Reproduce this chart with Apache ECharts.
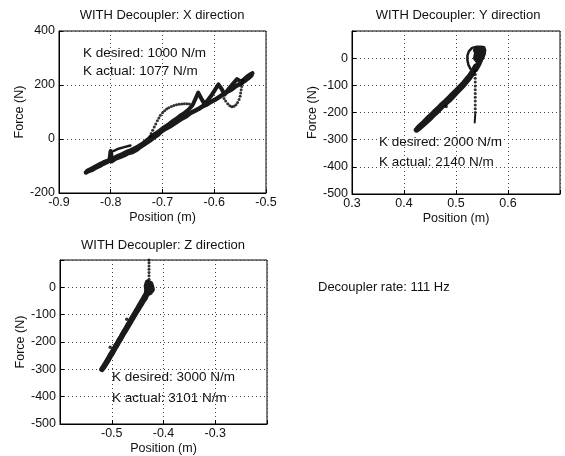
<!DOCTYPE html>
<html>
<head>
<meta charset="utf-8">
<script src="https://cdn.jsdelivr.net/npm/echarts@6/dist/echarts.min.js"></script>
<style>
html,body{margin:0;padding:0;background:#fff;}
#chart{width:565px;height:456px;}
</style>
</head>
<body>
<div id="chart"></div>
<script>
// ---------- Titles / texts ----------
const titles = ['WITH Decoupler: X direction', 'WITH Decoupler: Y direction', 'WITH Decoupler: Z direction'];
const kTexts = [
  ['K desired: 1000 N/m', 'K actual: 1077 N/m'],
  ['K desired: 2000 N/m', 'K actual: 2140 N/m'],
  ['K desired: 3000 N/m', 'K actual: 3101 N/m']
];
const rateText = 'Decoupler rate: 111 Hz';

// ---------- Tick labels ----------
const xTicks1 = [-0.9, -0.8, -0.7, -0.6, -0.5];
const yTicks1 = [-200, 0, 200, 400];
const xTicks2 = [0.3, 0.4, 0.5, 0.6];
const yTicks2 = [-500, -400, -300, -200, -100, 0];
const xTicks3 = [-0.5, -0.4, -0.3];
const yTicks3 = [-500, -400, -300, -200, -100, 0];

// ---------- X direction data ----------
const xBandOut = [[-0.848,-124],[-0.842,-118],[-0.836,-114],[-0.829,-106],[-0.822,-100],[-0.815,-92],[-0.808,-86],[-0.802,-80],[-0.800,-45],[-0.798,-82],[-0.790,-72],[-0.782,-66],[-0.774,-60],[-0.766,-52],[-0.758,-48],[-0.750,-40],[-0.742,-28],[-0.734,-18],[-0.726,-8],[-0.718,4],[-0.710,14],[-0.702,28],[-0.694,38],[-0.686,46],[-0.678,56],[-0.670,66],[-0.662,76],[-0.654,84],[-0.646,96],[-0.638,104],[-0.630,112],[-0.622,122],[-0.614,128],[-0.606,138],[-0.598,146],[-0.590,156],[-0.582,166],[-0.574,176],[-0.566,184],[-0.558,196],[-0.550,204],[-0.542,214],[-0.534,226],[-0.528,236]];
const xBandBack = [[-0.526,244],[-0.530,240],[-0.536,232],[-0.542,222],[-0.548,212],[-0.556,222],[-0.564,204],[-0.572,186],[-0.580,165],[-0.586,186],[-0.592,202],[-0.598,184],[-0.606,160],[-0.614,140],[-0.619,130],[-0.625,150],[-0.631,172],[-0.636,150],[-0.642,125],[-0.650,108],[-0.658,96],[-0.666,86],[-0.674,74],[-0.682,64],[-0.690,52],[-0.698,42],[-0.706,30],[-0.714,20],[-0.722,8],[-0.730,-4],[-0.738,-16],[-0.746,-26],[-0.754,-34],[-0.762,-42],[-0.770,-48],[-0.778,-56],[-0.786,-62],[-0.794,-70],[-0.806,-80],[-0.814,-86],[-0.822,-94],[-0.830,-102],[-0.838,-110],[-0.846,-118]];
const xArm = [[-0.794,-44],[-0.785,-36],[-0.774,-30],[-0.762,-24]];
const xDotsCurve = [[-0.724,10],[-0.722,20],[-0.719,32],[-0.716,44],[-0.713,56],[-0.710,68],[-0.707,78],[-0.704,88],[-0.700,97],[-0.696,105],[-0.692,111],[-0.688,116],[-0.683,120],[-0.678,124],[-0.673,127],[-0.668,129],[-0.663,130],[-0.658,131],[-0.653,131],[-0.648,130]];
const xDotsLoop = [[-0.545,218],[-0.546,206],[-0.547,194],[-0.548,182],[-0.549,170],[-0.550,158],[-0.552,146],[-0.555,135],[-0.558,127],[-0.562,121],[-0.566,119],[-0.570,123],[-0.574,131],[-0.578,141],[-0.581,150]];

// ---------- Y direction data ----------
const yBandOut = [[0.424,-264],[0.430,-256],[0.437,-244],[0.444,-232],[0.451,-220],[0.458,-206],[0.465,-194],[0.472,-180],[0.479,-168],[0.486,-156],[0.493,-142],[0.500,-128],[0.507,-114],[0.514,-100],[0.520,-86],[0.526,-72],[0.531,-58],[0.535,-44],[0.538,-30]];
const yBandBack = [[0.538,-30],[0.532,-48],[0.527,-62],[0.521,-76],[0.515,-90],[0.508,-104],[0.501,-118],[0.494,-131],[0.487,-145],[0.480,-158],[0.473,-170],[0.466,-184],[0.459,-196],[0.452,-210],[0.445,-222],[0.438,-236],[0.431,-248],[0.426,-258]];
const yLoop = [[0.528,-40],[0.524,-25],[0.522,-8],[0.522,10],[0.525,26],[0.531,38],[0.540,42],[0.548,42],[0.554,40],[0.556,30],[0.555,15],[0.552,0],[0.548,-12],[0.544,-24],[0.540,-34]];
const yBlob = [[0.538,-40],[0.544,-20],[0.548,0],[0.550,18],[0.546,30],[0.540,20],[0.538,0],[0.542,-10],[0.549,8],[0.552,25],[0.545,34],[0.538,28]];
const yDotsVert = [[0.537,-46],[0.537,-60],[0.537,-74],[0.537,-88],[0.537,-102],[0.537,-116],[0.537,-130],[0.537,-144],[0.537,-158],[0.537,-172],[0.537,-186],[0.537,-200]];
const yTail = [[0.537,-207],[0.536,-237]];
const yOutliers = [[0.481,-178]];

// ---------- Z direction data ----------
const zBandOut = [[-0.519,-300],[-0.515,-290],[-0.511,-278],[-0.507,-266],[-0.503,-252],[-0.499,-240],[-0.495,-226],[-0.491,-214],[-0.487,-200],[-0.483,-188],[-0.479,-174],[-0.475,-162],[-0.471,-149],[-0.467,-136],[-0.463,-124],[-0.459,-111],[-0.455,-98],[-0.451,-86],[-0.447,-73],[-0.443,-61],[-0.439,-48],[-0.435,-36],[-0.432,-22]];
const zBandBack = [[-0.432,-22],[-0.437,-34],[-0.441,-48],[-0.445,-60],[-0.449,-74],[-0.453,-86],[-0.457,-100],[-0.461,-112],[-0.465,-126],[-0.469,-138],[-0.473,-152],[-0.477,-164],[-0.481,-178],[-0.485,-190],[-0.489,-204],[-0.493,-216],[-0.497,-230],[-0.501,-242],[-0.505,-256],[-0.509,-268],[-0.513,-282],[-0.517,-294]];
const zBlob = [[-0.436,-40],[-0.433,-25],[-0.432,-10],[-0.433,5],[-0.431,18],[-0.428,24],[-0.425,14],[-0.423,2],[-0.422,-8],[-0.426,-18],[-0.430,-22],[-0.428,-5],[-0.426,8]];
const zDotsVert = [[-0.428,30],[-0.428,42],[-0.428,54],[-0.428,66],[-0.428,78],[-0.428,90],[-0.428,100]];
const zOutliers = [[-0.471,-117],[-0.503,-219]];

// ---------- Chart ----------
const FONT = '"Liberation Sans", Arial, Helvetica, sans-serif';
const INK = '#111';

function fmt(ticks, dec) {
  return function (v) {
    for (const t of ticks) if (Math.abs(t - v) < 1e-6) return dec ? t.toFixed(dec) : String(t);
    return '';
  };
}
function xAxis(gi, min, max, interval, ticks) {
  return {
    type: 'value', gridIndex: gi, min: min, max: max, interval: interval,
    name: 'Position (m)', nameLocation: 'middle', nameGap: 18,
    nameTextStyle: { fontFamily: FONT, fontSize: 12.5, color: INK },
    axisLine: { show: true, onZero: false, lineStyle: { color: '#000', width: 1 } },
    axisTick: { show: true, inside: true, length: 4, lineStyle: { color: '#000' } },
    axisLabel: { show: true, margin: 3, fontFamily: FONT, fontSize: 12.5, color: INK, formatter: fmt(ticks, 1), showMinLabel: true, showMaxLabel: true },
    splitLine: { show: true, lineStyle: { color: '#444', width: 1, type: [1, 3] } }
  };
}
function yAxis(gi, min, max, interval, ticks, gap) {
  return {
    type: 'value', gridIndex: gi, min: min, max: max, interval: interval,
    name: 'Force (N)', nameLocation: 'middle', nameGap: gap, nameRotate: 90,
    nameTextStyle: { fontFamily: FONT, fontSize: 12.5, color: INK },
    axisLine: { show: true, onZero: false, lineStyle: { color: '#000', width: 1 } },
    axisTick: { show: true, inside: true, length: 4, lineStyle: { color: '#000' } },
    axisLabel: { show: true, margin: 4, fontFamily: FONT, fontSize: 12.5, color: INK, formatter: fmt(ticks, 0) },
    splitLine: { show: true, lineStyle: { color: '#444', width: 1, type: [1, 3] } }
  };
}
function band(data, xi, w) {
  return { type: 'line', data: data, xAxisIndex: xi, yAxisIndex: xi, showSymbol: false, symbol: 'none',
    lineStyle: { color: '#1a1a1a', width: w, join: 'round', cap: 'round' }, silent: true, animation: false, z: 3 };
}
function dots(data, xi, size) {
  return { type: 'scatter', data: data, xAxisIndex: xi, yAxisIndex: xi, symbol: 'circle', symbolSize: size,
    itemStyle: { color: '#000' }, silent: true, animation: false, z: 4 };
}
function txt(text, x, y, size, align) {
  return { type: 'text', x: x, y: y, silent: true,
    style: { text: text, font: size + 'px ' + FONT, fill: INK, align: align, verticalAlign: 'middle' } };
}

const chart = echarts.init(document.getElementById('chart'), null, { renderer: 'canvas' });
chart.setOption({
  backgroundColor: '#fff',
  animation: false,
  grid: [
    { left: 59, top: 31, width: 207, height: 162, show: true, borderColor: '#000', borderWidth: 1, backgroundColor: 'transparent' },
    { left: 352, top: 31, width: 208, height: 163, show: true, borderColor: '#000', borderWidth: 1, backgroundColor: 'transparent' },
    { left: 60, top: 260, width: 207, height: 164, show: true, borderColor: '#000', borderWidth: 1, backgroundColor: 'transparent' }
  ],
  xAxis: [
    xAxis(0, -0.9, -0.5, 0.1, xTicks1),
    xAxis(1, 0.3, 0.7, 0.1, xTicks2),
    xAxis(2, -0.6, -0.2, 0.1, xTicks3)
  ],
  yAxis: [
    yAxis(0, -200, 400, 200, yTicks1, 30),
    yAxis(1, -500, 100, 100, yTicks2, 31),
    yAxis(2, -500, 100, 100, yTicks3, 32)
  ],
  series: [
    band(xBandOut, 0, 4.5), band(xBandBack, 0, 4), band(xArm, 0, 2.5), dots(xDotsCurve, 0, 3), dots(xDotsLoop, 0, 3),
    band(yBandOut, 1, 5.5), band(yBandBack, 1, 5), band(yLoop, 1, 2.5), band(yBlob, 1, 5.5), dots(yDotsVert, 1, 3), band(yTail, 1, 2), dots(yOutliers, 1, 3.5),
    band(zBandOut, 2, 5.5), band(zBandBack, 2, 5), band(zBlob, 2, 5.5), dots(zDotsVert, 2, 3), dots(zOutliers, 2, 3.5)
  ],
  graphic: [
    txt(titles[0], 162, 15, 13, 'center'),
    txt(titles[1], 458, 15, 13, 'center'),
    txt(titles[2], 163, 245, 13, 'center'),
    txt(kTexts[0][0], 83, 53, 13.5, 'left'),
    txt(kTexts[0][1], 83, 71, 13.5, 'left'),
    txt(kTexts[1][0], 379, 142, 13.5, 'left'),
    txt(kTexts[1][1], 379, 162, 13.5, 'left'),
    txt(kTexts[2][0], 112, 377, 13.5, 'left'),
    txt(kTexts[2][1], 112, 398, 13.5, 'left'),
    txt(rateText, 318, 287, 13, 'left')
  ]
});
</script>
</body>
</html>
